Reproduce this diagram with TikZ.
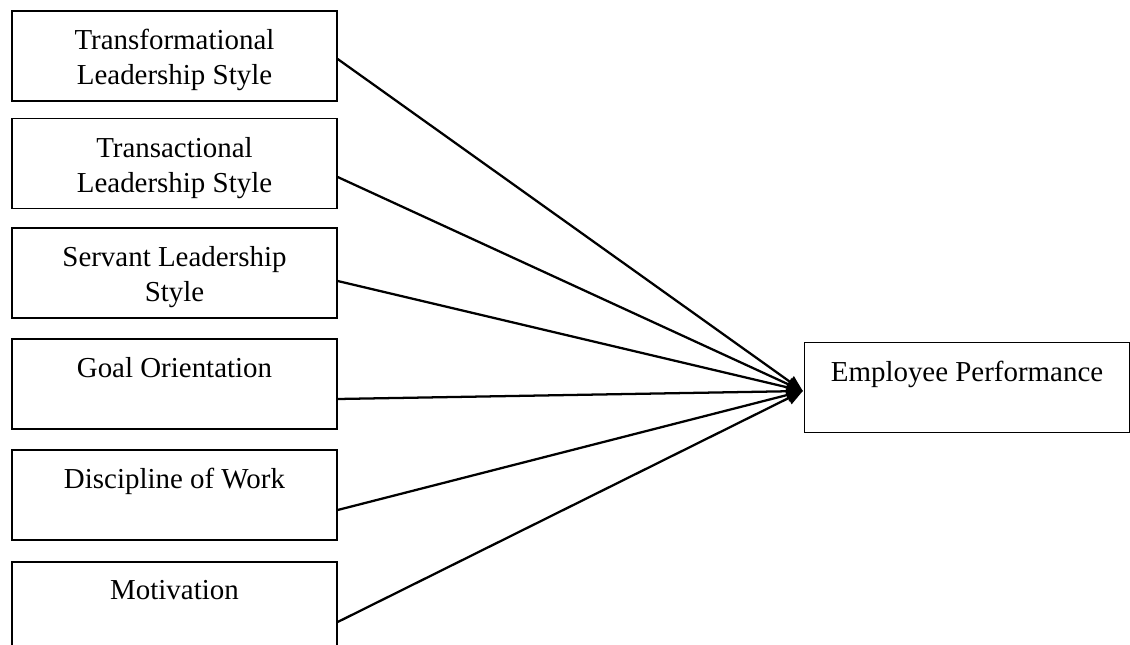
\documentclass[tikz,border=0pt]{standalone}
\usepackage{fontspec}
\setmainfont{Liberation Serif}
\usetikzlibrary{arrows.meta,calc}

\tikzset{
  factor/.style={draw, line width=1pt, minimum width=243.75pt, minimum height=67.5pt, inner sep=0pt},
  factor text/.style={anchor=north, inner sep=0pt, align=center, font=\fontsize{21.7}{26.2}\selectfont},
  influence/.style={line width=1.7pt, -{Triangle[length=12pt,width=10pt]}}
}

\begin{document}
\begin{tikzpicture}[x=0.75pt,y=0.75pt,yscale=-1,xscale=1]
        \useasboundingbox (0,0) rectangle (1130,645);
        \clip (0,0) rectangle (1130,645);

        %Shape: Rectangle [factors]
        \node[factor] (tls) at (174.5,56) {};
        \node[factor] (trs) at (174.5,163.5) {};
        \node[factor] (sls) at (174.5,273) {};
        \node[factor] (go) at (174.5,384) {};
        \node[factor] (dw) at (174.5,495) {};
        \node[factor] (mot) at (174.5,607) {};
        %Shape: Rectangle [outcome]
        \node[factor] (ep) at (967,387.5) {};

        % Text Node
        \node[factor text] (tls text) at ($(tls.north)+(0,19)$) {Transformational\\Leadership Style};
        % Text Node
        \node[factor text] (trs text) at ($(trs.north)+(0,19)$) {Transactional\\Leadership Style};
        % Text Node
        \node[factor text] (sls text) at ($(sls.north)+(0,19)$) {Servant Leadership\\Style};
        % Text Node
        \node[factor text] (go text) at ($(go.north)+(0,19)$) {Goal Orientation};
        % Text Node
        \node[factor text] (dw text) at ($(dw.north)+(0,19)$) {Discipline of Work};
        % Text Node
        \node[factor text] (mot text) at ($(mot.north)+(0,19)$) {Motivation};
        % Text Node
        \node[factor text] (ep text) at ($(ep.north)+(0,19)$) {Employee Performance};

        \coordinate (tip) at ($(ep.west)+(-1,3.5)$);

        %Straight Lines
        \draw[influence] ($(tls.east)+(0,3)$) -- (tip);
        \draw[influence] ($(trs.east)+(0,13.5)$) -- (tip);
        \draw[influence] ($(sls.east)+(0,8)$) -- (tip);
        \draw[influence] ($(go.east)+(0,15)$) -- (tip);
        \draw[influence] ($(dw.east)+(0,15)$) -- (tip);
        \draw[influence] ($(mot.east)+(0,15)$) -- (tip);

\end{tikzpicture}
\end{document}
